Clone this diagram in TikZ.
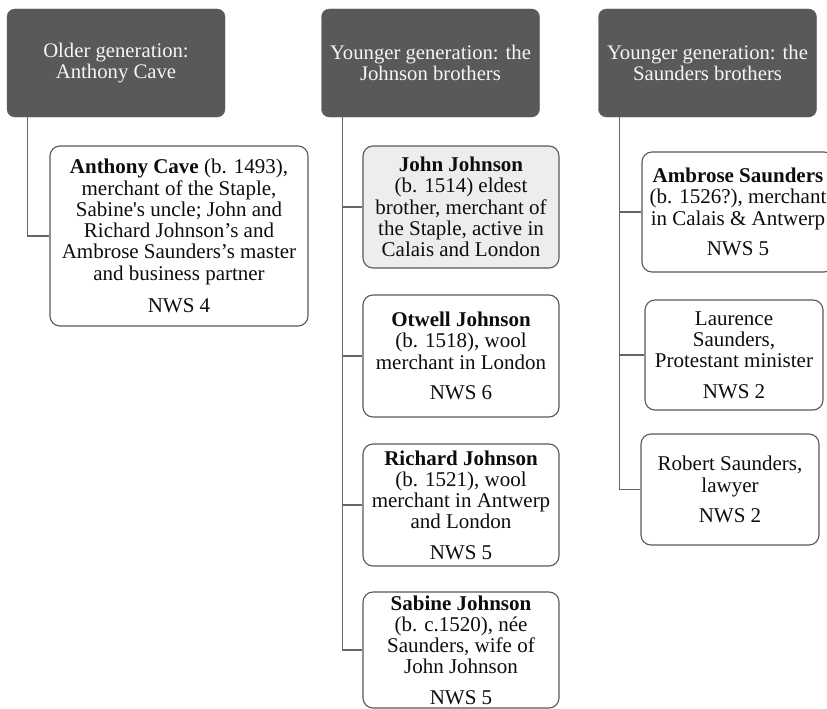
\documentclass[tikz,border=0pt]{standalone}
\usepackage{fontspec}
\setmainfont{Liberation Serif}
\usetikzlibrary{calc}

\begin{document}
\begin{tikzpicture}[x=1pt, y=-1pt,
  head/.style = {draw=black!65, fill=black!65, text=black!4, rounded corners=8pt, minimum width=218pt, minimum height=108pt, align=center, inner sep=0pt, font=\fontsize{20.7}{21.7}\selectfont},
  person/.style = {draw=black!65, line width=1.1pt, fill=white, rounded corners=10pt, align=center, inner sep=0pt, text=black!95, font=\fontsize{21}{21.3}\selectfont},
  johnson/.style = {person, minimum width=196pt, minimum height=122pt},
  trunk/.style = {draw=black!60, line width=1.2pt}]
	\useasboundingbox (0,0) rectangle (827,709);
	\fill[white] (0,0) rectangle (827,709);
	\node[head] (hOld) at (116,63) {Older generation:\\Anthony Cave};
	\node[head] (hJohnson) at (430.5,63) {Younger generation: the\\Johnson brothers};
	\node[head] (hSaunders) at (707.5,63) {Younger generation: the\\Saunders brothers};
	\node[person, minimum width=258pt, minimum height=180pt] (cave) at (179,236) {\textbf{Anthony Cave} (b. 1493),\\merchant of the Staple,\\Sabine\textquotesingle s uncle; John and\\Richard Johnson’s and\\Ambrose Saunders’s master\\and business partner\\[11pt]NWS 4};
	\node[johnson, fill=black!7] (john) at (461,207) {\textbf{John Johnson}\\(b. 1514) eldest\\brother, merchant of\\the Staple, active in\\Calais and London};
	\node[johnson] (otwell) at (461,356) {\textbf{Otwell Johnson}\\(b. 1518), wool\\merchant in London\\[9pt]NWS 6};
	\node[johnson] (richard) at (461,505) {\textbf{Richard Johnson}\\(b. 1521), wool\\merchant in Antwerp\\and London\\[9pt]NWS 5};
	\node[johnson, minimum height=116pt] (sabine) at (461,650) {\textbf{Sabine Johnson}\\(b. c.1520), née\\Saunders, wife of\\John Johnson\\[9pt]NWS 5};
	\node[person, minimum width=192pt, minimum height=120pt] (ambrose) at (738,212) {\textbf{Ambrose Saunders}\\(b. 1526?), merchant\\in Calais \& Antwerp\\[9pt]NWS 5};
	\node[person, minimum width=178pt, minimum height=110pt] (laurence) at (734,355) {Laurence\\Saunders,\\Protestant minister\\[9pt]NWS 2};
	\node[person, minimum width=178pt, minimum height=111pt] (robert) at (730,489.5) {Robert Saunders,\\lawyer\\[9pt]NWS 2};
	\coordinate (oTrunk) at ($(hOld.south west)+(21,0)$);
	\coordinate (jTrunk) at ($(hJohnson.south west)+(21,0)$);
	\coordinate (sTrunk) at ($(hSaunders.south west)+(21,0)$);
	\draw[trunk] (oTrunk) |- (cave.west);
	\draw[trunk] (jTrunk) |- (sabine.west);
	\foreach \n in {john, otwell, richard}
		\draw[trunk] (\n.west) -- (\n.west -| jTrunk);
	\draw[trunk] (sTrunk) |- (robert.west);
	\foreach \n in {ambrose, laurence}
		\draw[trunk] (\n.west) -- (\n.west -| sTrunk);
\end{tikzpicture}
\end{document}
